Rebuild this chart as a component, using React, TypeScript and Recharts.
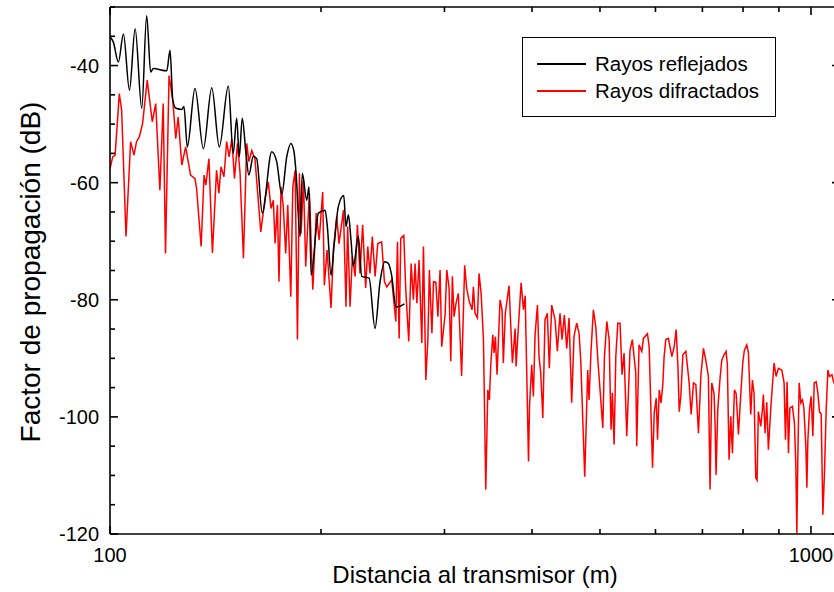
import React from 'react';
import { LineChart, Line, XAxis, YAxis, ReferenceLine, Legend, Label } from 'recharts';

// ---------- data ----------
const reflectedDistance = [
  100.0, 101.1, 102.8, 104.5, 106.6, 108.6, 111.0, 112.8, 114.3, 115.3, 120.5, 121.8, 122.9, 124.2,
  126.6, 127.5, 128.9, 132.2, 135.9, 139.7, 143.2, 147.5, 149.9, 151.6, 152.9, 154.4, 156.3, 157.8,
  160.1, 161.9, 164.9, 170.1, 172.9, 175.8, 178.7, 181.1, 183.0, 184.2, 186.7, 188.1, 190.8, 192.3,
  193.6, 198.3, 202.7, 204.2, 206.7, 208.7, 211.7, 215.5, 217.1, 218.8, 220.7, 222.4, 226.1, 228.6,
  234.2, 238.8, 242.8, 246.7, 249.5, 252.2, 255.8, 259.3, 263.0,
];
const reflectedDb = [
  -35.1, -36.0, -39.4, -34.6, -44.2, -33.7, -47.3, -31.5, -41.1, -40.5, -40.9, -37.4, -45.9, -47.3,
  -47.5, -47.0, -53.9, -43.9, -54.2, -43.8, -53.9, -43.5, -55.0, -49.0, -55.6, -49.0, -55.0, -58.7,
  -55.5, -55.9, -65.2, -54.7, -56.4, -62.0, -55.6, -53.3, -54.7, -58.1, -69.2, -58.4, -63.0, -60.7,
  -75.8, -65.2, -64.7, -67.5, -75.8, -70.9, -64.1, -62.2, -67.5, -65.5, -69.8, -74.3, -69.2, -76.0,
  -76.3, -84.9, -76.9, -73.5, -73.8, -75.8, -81.2, -81.1, -80.7,
];

const diffractedDistance = [
  100.0, 100.9, 101.7, 103.1, 103.9, 105.4, 107.0, 108.2, 109.1, 110.1, 111.3, 113.0, 114.9, 116.2,
  117.8, 119.1, 120.0, 121.4, 122.9, 124.1, 125.1, 126.6, 128.2, 130.3, 132.2, 132.9, 134.9, 136.2,
  137.0, 138.4, 140.0, 141.9, 143.0, 144.0, 145.4, 146.7, 147.9, 149.2, 150.5, 152.0, 153.3, 155.0,
  156.7, 157.8, 159.3, 161.0, 164.1, 166.4, 168.2, 169.7, 171.0, 172.0, 173.3, 174.2, 175.4, 176.7,
  178.1, 179.3, 181.1, 182.3, 183.7, 185.1, 186.3, 187.3, 188.8, 190.2, 192.5, 194.7, 196.9, 198.8,
  201.1, 202.2, 204.0, 206.7, 208.3, 210.6, 212.2, 215.3, 217.1, 218.3, 220.0, 221.7, 223.7, 225.4,
  227.3, 229.3, 231.6, 233.2, 234.9, 236.7, 238.9, 241.0, 244.1, 246.3, 248.2, 252.3, 255.7, 257.1,
  258.5, 259.9, 262.5, 264.2, 266.8, 268.9, 270.9, 272.4, 274.0, 276.0, 278.5, 280.0, 282.2, 284.1,
  285.5, 287.9, 289.4, 291.6, 293.6, 295.7, 297.3, 300.6, 302.3, 304.6, 306.3, 307.9, 309.6, 311.6,
  314.0, 317.4, 320.6, 322.7, 325.5, 328.5, 329.9, 331.7, 334.3, 336.1, 338.4, 341.0, 343.6, 345.9,
  347.7, 349.3, 351.6, 353.1, 354.6, 356.6, 360.1, 362.5, 364.0, 366.4, 370.9, 375.0, 378.4, 379.6,
  382.5, 385.9, 388.9, 391.1, 395.4, 396.7, 399.6, 401.8, 404.0, 407.2, 409.3, 411.6, 414.4, 417.4,
  420.6, 423.4, 426.7, 431.4, 434.7, 438.5, 441.4, 444.8, 448.3, 451.7, 455.7, 459.1, 463.2, 466.8,
  469.4, 475.6, 480.3, 482.4, 485.6, 489.3, 493.2, 496.9, 504.7, 507.4, 511.4, 515.3, 518.5, 520.8,
  523.8, 526.7, 530.2, 534.1, 537.6, 541.2, 546.0, 551.9, 556.1, 562.4, 564.2, 568.5, 573.7, 576.7,
  584.4, 587.7, 594.2, 597.6, 601.5, 604.1, 607.5, 611.1, 614.6, 617.3, 620.7, 626.1, 633.2, 638.0,
  642.2, 645.9, 648.7, 652.1, 656.5, 663.0, 670.2, 674.6, 679.8, 685.1, 691.0, 696.4, 702.4, 707.9,
  713.9, 717.8, 721.9, 727.3, 729.7, 732.1, 736.2, 741.8, 746.0, 751.6, 756.6, 759.8, 764.1, 768.4,
  772.5, 777.6, 782.0, 788.0, 792.2, 799.2, 803.5, 809.9, 814.2, 820.5, 824.9, 829.5, 834.1, 837.7,
  841.2, 848.0, 852.4, 855.2, 860.0, 864.8, 869.4, 876.3, 882.1, 885.9, 891.7, 898.5, 908.6, 915.5,
  919.5, 924.6, 928.6, 932.9, 940.9, 947.1, 951.5, 954.6, 957.8, 961.9, 967.3, 972.4, 976.9, 983.3,
  986.6, 989.8, 995.0, 1000.6, 1006.2, 1010.6, 1017.2, 1022.9, 1028.3, 1034.0, 1039.8, 1045.3, 1051.2, 1057.1,
  1062.7, 1071.2, 1076.9, 1086.5, 1100.0,
];
const diffractedDb = [
  -57.6, -55.6, -55.3, -44.8, -47.6, -69.2, -53.0, -55.3, -53.0, -52.2, -49.9, -42.5, -49.6, -46.5,
  -61.3, -46.5, -72.1, -41.7, -45.9, -52.5, -48.8, -57.0, -53.9, -58.7, -59.3, -61.0, -70.9, -58.7,
  -60.4, -55.9, -72.0, -57.9, -61.8, -57.3, -59.0, -53.0, -55.6, -52.5, -59.3, -53.3, -58.4, -72.9,
  -53.3, -56.4, -54.5, -56.0, -68.4, -62.7, -59.9, -64.4, -63.0, -70.4, -63.8, -76.9, -60.7, -64.1,
  -72.1, -63.8, -79.5, -60.7, -57.9, -86.8, -58.4, -68.7, -59.6, -74.3, -61.8, -78.3, -65.2, -69.8,
  -61.6, -77.5, -71.5, -81.4, -71.5, -65.8, -70.4, -64.7, -81.2, -67.5, -81.2, -72.6, -76.0, -67.2,
  -75.5, -67.2, -78.0, -70.9, -75.5, -69.2, -76.0, -70.4, -70.1, -76.9, -77.8, -76.6, -83.7, -70.1,
  -86.6, -69.5, -69.0, -78.3, -87.1, -73.8, -80.0, -73.8, -80.6, -73.2, -87.4, -70.9, -93.7, -86.8,
  -74.9, -85.7, -76.9, -77.0, -82.9, -74.9, -88.0, -82.6, -74.9, -78.0, -90.5, -76.0, -82.9, -80.6,
  -78.9, -93.0, -74.1, -78.0, -80.3, -81.7, -77.8, -82.3, -83.1, -75.5, -78.9, -86.8, -112.4, -95.4,
  -97.1, -91.1, -86.0, -89.1, -86.3, -92.8, -80.0, -81.7, -90.8, -82.3, -77.6, -90.8, -84.9, -91.4,
  -84.5, -77.1, -81.7, -79.3, -107.6, -98.2, -91.1, -96.5, -86.0, -80.9, -89.7, -92.5, -100.2, -83.4,
  -82.3, -91.7, -80.9, -83.4, -88.8, -82.3, -86.8, -82.6, -88.3, -83.1, -97.6, -86.3, -84.0, -85.7,
  -90.3, -110.2, -92.0, -97.1, -88.6, -81.7, -84.6, -90.8, -101.9, -89.7, -83.7, -86.8, -102.2, -95.9,
  -104.7, -89.7, -84.0, -84.0, -92.8, -89.1, -103.3, -88.6, -86.8, -92.5, -105.0, -87.7, -88.8, -86.6,
  -85.8, -88.0, -108.7, -99.3, -96.8, -103.9, -95.4, -97.6, -94.5, -89.7, -86.8, -86.6, -89.7, -88.0,
  -85.1, -91.4, -99.1, -96.5, -89.4, -88.8, -94.2, -99.6, -94.2, -94.5, -102.8, -93.1, -88.3, -90.3,
  -93.1, -112.4, -94.2, -96.0, -101.1, -109.9, -98.8, -93.4, -90.3, -89.4, -88.8, -91.0, -107.3, -99.9,
  -106.2, -95.4, -96.0, -103.0, -98.2, -90.8, -88.6, -87.7, -89.0, -99.6, -93.7, -96.0, -110.4, -110.8,
  -99.1, -101.6, -98.8, -96.2, -102.8, -97.5, -105.6, -98.5, -93.7, -90.8, -93.1, -91.7, -92.0, -94.2,
  -103.9, -94.0, -106.2, -98.5, -98.2, -101.1, -108.4, -119.9, -106.7, -94.2, -97.6, -97.1, -98.5, -105.0,
  -112.1, -104.0, -98.8, -96.5, -103.3, -94.2, -94.0, -95.9, -99.1, -99.5, -116.7, -109.6, -98.8, -92.0,
  -93.1, -92.8, -94.0, -95.0, -94.0,
];

const xTicks = [100, 200, 300, 400, 500, 600, 700, 800, 900, 1000];
const xLabeledTicks = [100, 1000];
const yTicks = [-120, -115, -110, -105, -100, -95, -90, -85, -80, -75, -70, -65, -60, -55, -50, -45, -40, -35, -30];
const yLabeledTicks = [-120, -100, -80, -60, -40];
const xDomain = [100, 1100];
const yDomain = [-120, -30];

const seriesNames = { reflected: 'Rayos reflejados', diffracted: 'Rayos difractados' };
const axisTitles = { x: 'Distancia al transmisor (m)', y: 'Factor de propagación (dB)' };

const reflectedData = reflectedDistance.map((d, i) => ({ d, v: reflectedDb[i] }));
const diffractedData = diffractedDistance.map((d, i) => ({ d, v: diffractedDb[i] }));

// ---------- layout ----------
const W = 850;
const H = 592;
const M = { top: 7, right: 10, bottom: 27, left: 50 };
const Y_AXIS_W = 60;
const X_AXIS_H = 31;
const PLOT_LEFT = M.left + Y_AXIS_W;
const PLOT_RIGHT = W - M.right;
const PLOT_TOP = M.top;
const PLOT_BOTTOM = H - M.bottom - X_AXIS_H;
const FONT = '"Liberation Sans", Arial, Helvetica, sans-serif';
const AXIS_W = 1.6;
const Y_TITLE_X = 40;
const Y_TITLE_Y = 272;

const XTick = (props: any) => {
  const { x, y, payload } = props;
  const v = payload.value;
  const major = xLabeledTicks.includes(v);
  const len = major ? 8 : 5;
  return (
    <g>
      <line x1={x} y1={y} x2={x} y2={y - len} stroke="#000" strokeWidth={AXIS_W} />
      <line x1={x} y1={PLOT_TOP} x2={x} y2={PLOT_TOP + len} stroke="#000" strokeWidth={AXIS_W} />
      {major && (
        <text x={x} y={y + 28} textAnchor="middle" fontSize={20} fontFamily={FONT} fill="#000">
          {v}
        </text>
      )}
    </g>
  );
};

const YTick = (props: any) => {
  const { x, y, payload } = props;
  const v = payload.value;
  const major = yLabeledTicks.includes(v);
  const len = major ? 8 : 5;
  return (
    <g>
      <line x1={x} y1={y} x2={x + len} y2={y} stroke="#000" strokeWidth={AXIS_W} />
      <line x1={PLOT_RIGHT} y1={y} x2={PLOT_RIGHT - len} y2={y} stroke="#000" strokeWidth={AXIS_W} />
      {major && (
        <text x={x - 11} y={y + 7} textAnchor="end" fontSize={20} fontFamily={FONT} fill="#000">
          {v}
        </text>
      )}
    </g>
  );
};

const LegendBox = () => (
  <div
    style={{
      width: 254,
      height: 80,
      boxSizing: 'border-box',
      border: '1px solid #000',
      background: '#fff',
      fontFamily: FONT,
      fontSize: 20.5,
      color: '#000',
      position: 'relative',
    }}
  >
    {[
      { name: seriesNames.reflected, color: '#000000' },
      { name: seriesNames.diffracted, color: '#ff0000' },
    ].map((item, i) => (
      <div key={item.name} style={{ position: 'absolute', left: 14, top: 14 + i * 27, height: 24, display: 'flex', alignItems: 'center' }}>
        <span style={{ display: 'inline-block', width: 49, height: 1.6, background: item.color, marginRight: 9 }} />
        <span style={{ whiteSpace: 'nowrap', lineHeight: '24px' }}>{item.name}</span>
      </div>
    ))}
  </div>
);

export default function App() {
  return (
    <div style={{ position: 'absolute', left: 0, top: 0, width: 834, height: 592, overflow: 'hidden', background: '#fff' }}>
      <LineChart width={W} height={H} margin={M}>
        <XAxis
          dataKey="d"
          type="number"
          scale="log"
          domain={xDomain}
          allowDataOverflow
          ticks={xTicks}
          interval={0}
          tickSize={0}
          tickMargin={0}
          height={X_AXIS_H}
          tick={<XTick />}
          axisLine={{ stroke: '#000', strokeWidth: AXIS_W }}
          tickLine={false}
        >
          <Label
            content={() => (
              <text x={(PLOT_LEFT + PLOT_RIGHT) / 2} y={583} textAnchor="middle" fontSize={24} fontFamily={FONT} fill="#000">
                {axisTitles.x}
              </text>
            )}
          />
        </XAxis>
        <YAxis
          type="number"
          domain={yDomain}
          allowDataOverflow
          ticks={yTicks}
          interval={0}
          tickSize={0}
          tickMargin={0}
          width={Y_AXIS_W}
          tick={<YTick />}
          axisLine={{ stroke: '#000', strokeWidth: AXIS_W }}
          tickLine={false}
        >
          <Label
            content={() => (
              <text
                x={Y_TITLE_X}
                y={Y_TITLE_Y}
                transform={`rotate(-90 ${Y_TITLE_X} ${Y_TITLE_Y})`}
                textAnchor="middle"
                fontSize={28}
                fontFamily={FONT}
                fill="#000"
              >
                {axisTitles.y}
              </text>
            )}
          />
        </YAxis>
        <ReferenceLine y={-30} stroke="#000" strokeWidth={AXIS_W} />
        <ReferenceLine x={1100} stroke="#000" strokeWidth={AXIS_W} />
        <Line
          data={diffractedData}
          dataKey="v"
          type="linear"
          stroke="#ff0000"
          strokeWidth={1.5}
          dot={false}
          activeDot={false}
          isAnimationActive={false}
          name={seriesNames.diffracted}
        />
        <Line
          data={reflectedData}
          dataKey="v"
          type="monotone"
          stroke="#000000"
          strokeWidth={1.5}
          dot={false}
          activeDot={false}
          isAnimationActive={false}
          name={seriesNames.reflected}
        />
        <Legend
          layout="horizontal"
          align="center"
          verticalAlign="middle"
          content={() => <LegendBox />}
          wrapperStyle={{ position: 'absolute', left: 522, top: 37, width: 254, height: 80 }}
        />
      </LineChart>
    </div>
  );
}
